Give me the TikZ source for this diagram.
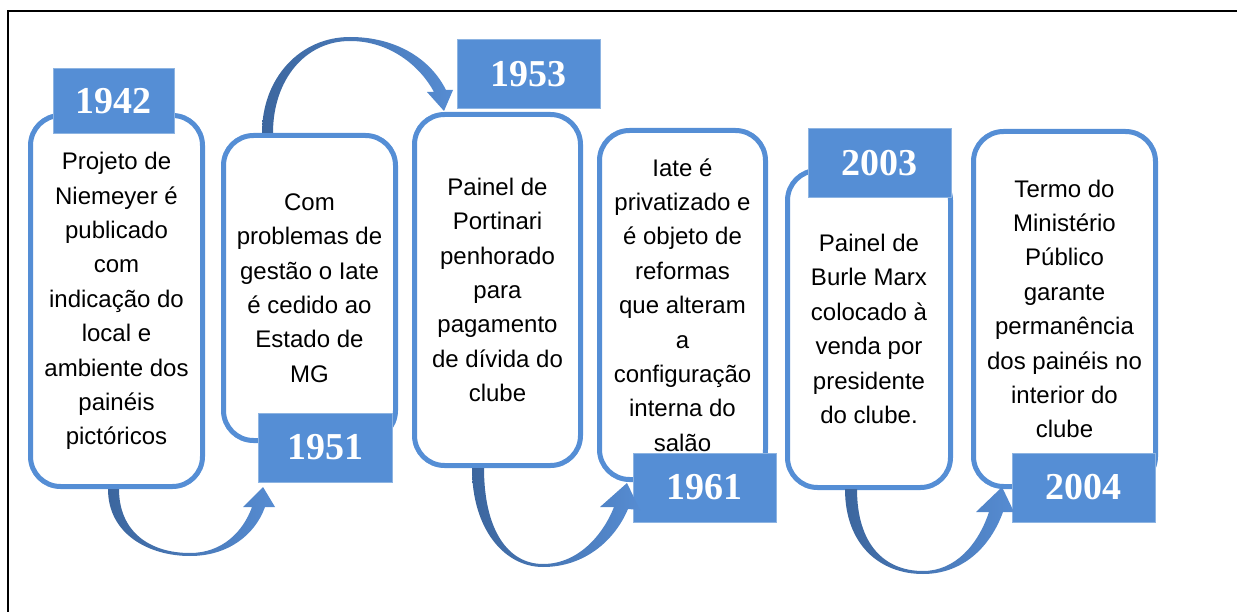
\documentclass[tikz,border=0pt]{standalone}
\usepackage{fontspec}
\setmainfont{Liberation Sans}
\newfontfamily\yearfont{Liberation Serif}
\definecolor{boxblue}{RGB}{85,142,213}
\definecolor{yearedge}{RGB}{141,180,226}
\definecolor{arrdark}{RGB}{60,102,158}
\definecolor{arrlight}{RGB}{86,140,210}
\begin{document}
\begin{tikzpicture}[x=1pt,y=-1pt,
  evbox/.style={draw=boxblue, line width=5pt, rounded corners=30pt, fill=white,
    align=center, font=\fontsize{24}{34.4}\selectfont, inner sep=0pt},
  yearbox/.style={draw=yearedge, line width=1pt, fill=boxblue, text=white,
    font=\yearfont\bfseries\fontsize{38}{40}\selectfont, inner sep=0pt},
  arrowshape/.style={left color=arrdark, right color=arrlight, draw=none}]
\useasboundingbox (0,0) rectangle (1237,612);
\draw[line width=2pt] (8,612) -- (8,11) -- (1237,11);

% event boxes
\node[evbox, minimum width=172pt, minimum height=371pt] (b1) at (116.5,301)
  {Projeto de\\Niemeyer é\\publicado\\com\\indicação do\\local e\\ambiente dos\\painéis\\pictóricos};
\node[evbox, minimum width=172pt, minimum height=305pt] (b2) at (309.5,288)
  {Com\\problemas de\\gestão o Iate\\é cedido ao\\Estado de\\MG};
\node[evbox, minimum width=166pt, minimum height=351pt] (b3) at (497.5,290)
  {Painel de\\Portinari\\penhorado\\para\\pagamento\\de dívida do\\clube};
\node[evbox, minimum width=166pt, minimum height=349pt] (b4) at (682.5,305)
  {Iate é\\privatizado e\\é objeto de\\reformas\\que alteram\\a\\configuração\\interna do\\salão};
\node[evbox, minimum width=163pt, minimum height=317pt] (b5) at (869,329)
  {Painel de\\Burle Marx\\colocado à\\venda por\\presidente\\do clube.};
\node[evbox, minimum width=182pt, minimum height=355pt] (b6) at (1064.5,309)
  {Termo do\\Ministério\\Público\\garante\\permanência\\dos painéis no\\interior do\\clube};

% year boxes
\node[yearbox, minimum width=121pt, minimum height=65pt] (y1) at (113.5,101.5) {1942};
\node[yearbox, minimum width=134pt, minimum height=69pt] (y2) at (325,447.5) {1951};
\node[yearbox, minimum width=143pt, minimum height=69pt] (y3) at (528.5,74.5) {1953};
\node[yearbox, minimum width=143pt, minimum height=69pt] (y4) at (704.5,487.5) {1961};
\node[yearbox, minimum width=143pt, minimum height=69pt] (y5) at (879.5,163.5) {2003};
\node[yearbox, minimum width=143pt, minimum height=69pt] (y6) at (1083.5,487.5) {2004};

% curved arrows
\shade[arrowshape] (108,489) .. controls (108,535) and (150,556) .. (190,556)
  .. controls (228,556) and (255,535) .. (265,507) -- (275,507) -- (263,487) -- (243,507) -- (252,507)
  .. controls (243,532) and (222,553) .. (190,553)
  .. controls (150,553) and (119,532) .. (119,489) -- cycle;

\shade[arrowshape] (262,133) .. controls (262,78) and (300,37) .. (350,37)
  .. controls (395,37) and (430,58) .. (446,90) -- (453,90) -- (444,111) -- (427,92) -- (434,92)
  .. controls (420,66) and (390,41) .. (350,41)
  .. controls (305,41) and (273,80) .. (273,133) -- cycle;

\shade[arrowshape] (472,468) .. controls (472,530) and (505,567) .. (543,567)
  .. controls (585,567) and (615,540) .. (628,509) -- (640,510) -- (627,483) -- (600,507) -- (614,507)
  .. controls (603,535) and (578,564) .. (543,564)
  .. controls (508,564) and (484,530) .. (484,468) -- cycle;

\shade[arrowshape] (845,489) .. controls (845,545) and (880,574) .. (923,574)
  .. controls (962,574) and (990,548) .. (1003,512) -- (1014,512) -- (1002,487) -- (976,512) -- (989,512)
  .. controls (978,545) and (955,571) .. (923,571)
  .. controls (885,571) and (857,545) .. (857,489) -- cycle;
\end{tikzpicture}
\end{document}
